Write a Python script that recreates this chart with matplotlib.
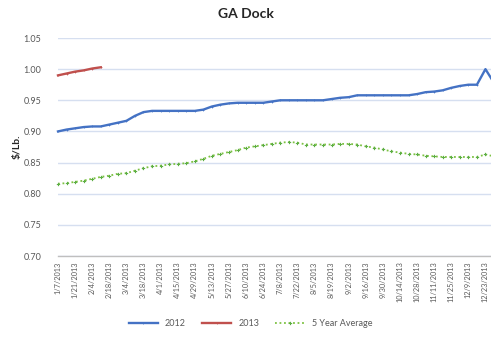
import matplotlib
matplotlib.use("Agg")
import matplotlib.pyplot as plt

plt.rcParams['font.family'] = ['Lato', 'DejaVu Sans']

# Weekly prices, $/Lb. (week 0 = 1/7/2013)
price_2012 = [0.900, 0.903, 0.905, 0.907, 0.908, 0.908, 0.911, 0.914, 0.917, 0.925,
              0.931, 0.933, 0.933, 0.933, 0.933, 0.933, 0.933, 0.935, 0.940, 0.943,
              0.945, 0.946, 0.946, 0.946, 0.946, 0.948, 0.950, 0.950, 0.950, 0.950,
              0.950, 0.950, 0.952, 0.954, 0.955, 0.958, 0.958, 0.958, 0.958, 0.958,
              0.958, 0.958, 0.960, 0.963, 0.964, 0.966, 0.970, 0.973, 0.975, 0.975,
              1.000, 0.978]
price_2013 = [0.990, 0.993, 0.996, 0.998, 1.001, 1.003]
five_year_avg = [0.816, 0.817, 0.819, 0.821, 0.824, 0.827, 0.829, 0.832, 0.833, 0.837,
                 0.841, 0.844, 0.845, 0.847, 0.848, 0.849, 0.852, 0.856, 0.861, 0.864,
                 0.867, 0.870, 0.874, 0.876, 0.878, 0.880, 0.882, 0.883, 0.882, 0.879,
                 0.879, 0.879, 0.879, 0.880, 0.880, 0.879, 0.876, 0.874, 0.871, 0.868,
                 0.866, 0.864, 0.863, 0.861, 0.860, 0.859, 0.859, 0.859, 0.859, 0.859,
                 0.863, 0.860]

tick_labels = ["1/7/2013", "1/21/2013", "2/4/2013", "2/18/2013", "3/4/2013",
               "3/18/2013", "4/1/2013", "4/15/2013", "4/29/2013", "5/13/2013",
               "5/27/2013", "6/10/2013", "6/24/2013", "7/8/2013", "7/22/2013",
               "8/5/2013", "8/19/2013", "9/2/2013", "9/16/2013", "9/30/2013",
               "10/14/2013", "10/28/2013", "11/11/2013", "11/25/2013", "12/9/2013",
               "12/23/2013"]
y_ticks = [0.70, 0.75, 0.80, 0.85, 0.90, 0.95, 1.00, 1.05]

W, H = 491, 338
fig = plt.figure(figsize=(W / 100, H / 100), dpi=100)
fig.patch.set_facecolor("white")

left_px, right_px = 58, 494
top_px, bottom_px = 38, 256
ax = fig.add_axes([left_px / W, (H - bottom_px) / H,
                   (right_px - left_px) / W, (bottom_px - top_px) / H])

blue = "#4472C4"
red = "#C0504D"
green = "#7DC242"

ax.plot(range(len(price_2012)), price_2012, color=blue, lw=1.7,
        marker='+', ms=1.6, mew=0.5, label="2012", clip_on=False)
ax.plot(range(len(price_2013)), price_2013, color=red, lw=1.7,
        marker='+', ms=1.6, mew=0.5, label="2013", clip_on=False)
ax.plot(range(len(five_year_avg)), five_year_avg, color=green, lw=1.3,
        ls=(0, (1, 1.5)), marker='P', ms=2.4, mew=0, mfc="#5DAE44",
        label="5 Year Average", clip_on=False)

ax.set_xlim(0, len(price_2012) - 1)
ax.set_ylim(0.70, 1.05)
ax.set_yticks(y_ticks)
ax.set_yticklabels([f"{v:.2f}" for v in y_ticks])
ax.set_xticks(range(0, 2 * len(tick_labels), 2))
ax.set_xticklabels(tick_labels, rotation=90, va="top", ha="center")

ax.grid(axis="y", color="#D6DFF0", lw=1.0)
ax.set_axisbelow(True)
for s in ("top", "right", "left"):
    ax.spines[s].set_visible(False)
ax.spines["bottom"].set_color("#BFBFBF")
ax.spines["bottom"].set_linewidth(1.0)
ax.tick_params(axis="y", length=0, pad=12, labelsize=6.5, labelcolor="#595959")
ax.tick_params(axis="x", length=0, pad=4, labelsize=5.3, labelcolor="#595959")

ax.set_ylabel("$/Lb.", fontsize=7.5, fontweight="bold", color="#262626", labelpad=1)
fig.text(0.5, 1 - 14 / H, "GA Dock", ha="center", va="center",
         fontsize=10, fontweight="bold", color="#262626")

fig.legend(loc="center", bbox_to_anchor=(0.51, 1 - 324 / H), ncol=3,
           frameon=False, fontsize=6.5, handlelength=3.2, columnspacing=1.8,
           labelcolor="#595959")

fig.savefig("out.png", dpi=100, facecolor="white")
